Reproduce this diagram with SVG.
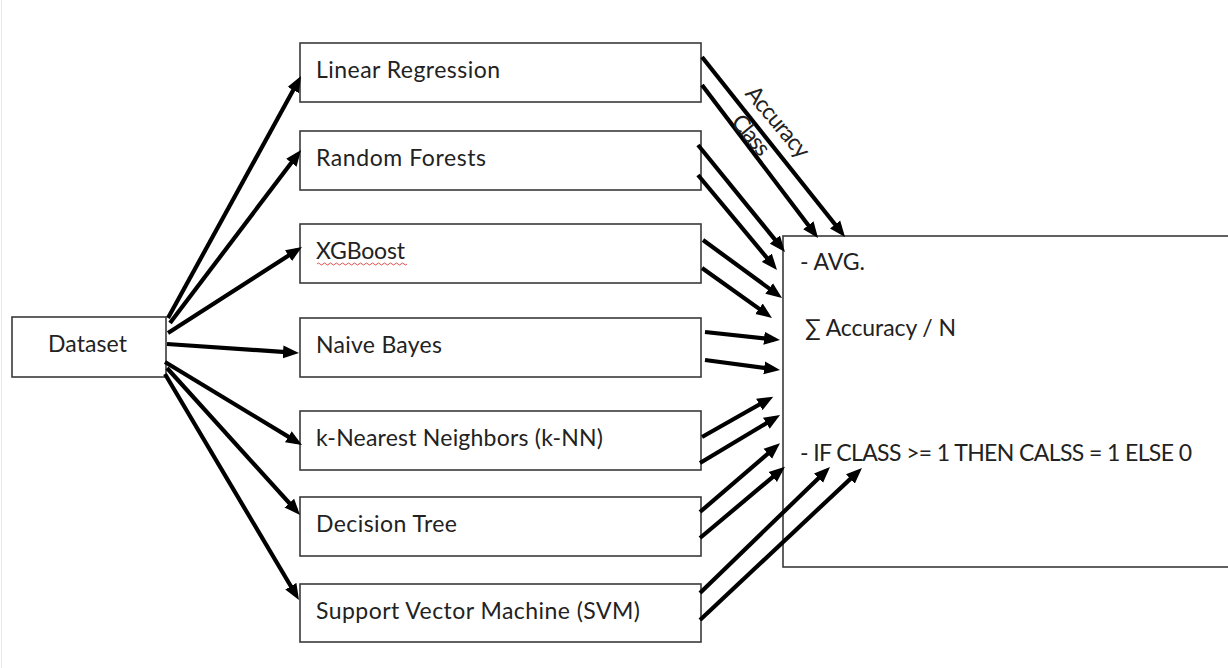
<svg xmlns="http://www.w3.org/2000/svg" width="1228" height="668" viewBox="0 0 1228 668">
<style>
.box{fill:#fff;stroke:#3a3a3a;stroke-width:1.6}
.t{font-family:Lato,"Open Sans","Liberation Sans",sans-serif;font-size:23px;fill:#222}
.c{stroke:#000;stroke-width:4.2;fill:none;marker-end:url(#ah)}
</style>
<defs>
<marker id="ah" markerUnits="userSpaceOnUse" markerWidth="17" markerHeight="14" refX="10" refY="7" orient="auto">
<path d="M0,0.5 L16,7 L0,13.5 z" fill="#000"/>
</marker>
</defs>
<rect width="1228" height="668" fill="#fff"/>
<line x1="1.5" y1="0" x2="1.5" y2="668" stroke="#e8e8e8" stroke-width="1"/>

<g id="aggregator">
<rect class="box" x="783" y="236" width="470" height="331"/>
<text class="t" x="800" y="270" textLength="65">- AVG.</text>
<text class="t" x="805" y="336" textLength="151">∑ Accuracy / N</text>
<text class="t" x="800" y="461" textLength="392">- IF CLASS &gt;= 1 THEN CALSS = 1 ELSE 0</text>
</g>

<g id="dataset">
<rect class="box" x="12" y="317" width="154" height="60"/>
<text class="t" x="48" y="352" textLength="79">Dataset</text>
</g>

<g id="linear-regression">
<rect class="box" x="300" y="43" width="401" height="59"/>
<text class="t" x="316" y="78" textLength="184">Linear Regression</text>
</g>
<g id="random-forests">
<rect class="box" x="300" y="131" width="401" height="59"/>
<text class="t" x="316" y="166" textLength="170">Random Forests</text>
</g>
<g id="xgboost">
<rect class="box" x="300" y="224" width="401" height="59"/>
<text class="t" x="316" y="259" textLength="89">XGBoost</text>
<path d="M317,264 q1.5,-2 3,0 t3,0 t3,0 t3,0 t3,0 t3,0 t3,0 t3,0 t3,0 t3,0 t3,0 t3,0 t3,0 t3,0 t3,0 t3,0 t3,0 t3,0 t3,0 t3,0 t3,0 t3,0 t3,0 t3,0 t3,0 t3,0 t3,0 t3,0 t3,0 t3,0" fill="none" stroke="#e05050" stroke-width="1"/>
</g>
<g id="naive-bayes">
<rect class="box" x="300" y="318" width="401" height="59"/>
<text class="t" x="316" y="353" textLength="126">Naive Bayes</text>
</g>
<g id="knn">
<rect class="box" x="300" y="411" width="401" height="59"/>
<text class="t" x="316" y="446" textLength="287">k-Nearest Neighbors (k-NN)</text>
</g>
<g id="decision-tree">
<rect class="box" x="300" y="497" width="401" height="59"/>
<text class="t" x="316" y="532" textLength="141">Decision Tree</text>
</g>
<g id="svm">
<rect class="box" x="300" y="584" width="401" height="58"/>
<text class="t" x="316" y="619" textLength="324">Support Vector Machine (SVM)</text>
</g>

<g id="connectors">
<line class="c" x1="168" y1="318" x2="298.1" y2="81.3"/>
<line class="c" x1="170" y1="323" x2="297.4" y2="154.8"/>
<line class="c" x1="168" y1="333" x2="296.9" y2="250.2"/>
<line class="c" x1="167" y1="344" x2="293" y2="352.6"/>
<line class="c" x1="165" y1="362" x2="296.9" y2="441.9"/>
<line class="c" x1="167" y1="368" x2="296" y2="510.5"/>
<line class="c" x1="165" y1="374" x2="295.9" y2="594.8"/>

<line class="c" x1="702" y1="57" x2="841.3" y2="232.3"/>
<line class="c" x1="702" y1="85" x2="814.4" y2="233.2"/>
<line class="c" x1="698" y1="145" x2="781.2" y2="247.3"/>
<line class="c" x1="698" y1="175" x2="773.2" y2="265.4"/>
<line class="c" x1="703" y1="240" x2="777.2" y2="294.4"/>
<line class="c" x1="702" y1="268" x2="767.1" y2="314.5"/>
<line class="c" x1="705" y1="332" x2="774" y2="339.4"/>
<line class="c" x1="705" y1="360" x2="774.1" y2="369.2"/>
<line class="c" x1="702" y1="437" x2="768" y2="399.6"/>
<line class="c" x1="700" y1="463" x2="774.9" y2="418.1"/>
<line class="c" x1="700" y1="512" x2="775.4" y2="447.2"/>
<line class="c" x1="700" y1="538" x2="780.4" y2="470.6"/>
<line class="c" x1="700" y1="593" x2="825.7" y2="471.2"/>
<line class="c" x1="700" y1="620" x2="857.6" y2="472.1"/>

<text class="t" font-size="20" text-anchor="middle" textLength="86" transform="translate(772,127) rotate(50)">Accuracy</text>
<text class="t" font-size="20" text-anchor="middle" textLength="46" transform="translate(745,140) rotate(50)">Class</text>
</g>
</svg>
